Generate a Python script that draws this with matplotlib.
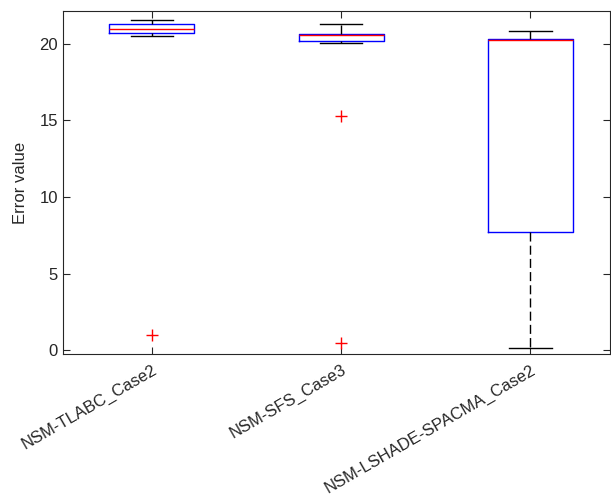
import matplotlib.pyplot as plt

# summary statistics of the error values per algorithm
labels = ["NSM-TLABC_Case2", "NSM-SFS_Case3", "NSM-LSHADE-SPACMA_Case2"]
whislo = [20.50, 20.07, 0.13]
q1 = [20.70, 20.17, 7.69]
median = [21.00, 20.55, 20.24]
q3 = [21.31, 20.63, 20.35]
whishi = [21.59, 21.31, 20.85]
fliers = [[1.00], [15.29, 0.46], []]

plt.rcParams['font.family'] = ['Liberation Sans', 'DejaVu Sans']

stats = []
for i, lab in enumerate(labels):
    stats.append(dict(label=lab, whislo=whislo[i], q1=q1[i], med=median[i],
                      q3=q3[i], whishi=whishi[i], fliers=fliers[i]))

fig = plt.figure(figsize=(6.11, 4.98), dpi=100)
ax = fig.add_axes([0.103, 0.289, 0.895, 0.689])

axis_col = '#262626'
ax.bxp(stats, positions=[1, 2, 3], widths=0.45, showfliers=True,
       boxprops=dict(color='blue', linewidth=1.0),
       medianprops=dict(color='red', linewidth=1.0),
       whiskerprops=dict(color='black', linewidth=1.0, linestyle=(0, (6.5, 3))),
       capprops=dict(color='black', linewidth=1.0),
       capwidths=0.225,
       flierprops=dict(marker='+', markeredgecolor='red', markersize=8,
                       markeredgewidth=1.0, linestyle='none'))

ax.set_xlim(0.53, 3.42)
ax.set_ylim(-0.26, 22.15)
ax.set_yticks([0, 5, 10, 15, 20])
ax.set_xticks([1, 2, 3])
ax.set_xticklabels(labels, rotation=30, ha='right', rotation_mode='anchor',
                   fontsize=12, color=axis_col)
ax.set_ylabel("Error value", fontsize=12, color=axis_col, labelpad=8)
ax.tick_params(axis='both', direction='in', top=True, right=True,
               length=5, width=0.8, color=axis_col, labelcolor=axis_col)
ax.tick_params(axis='y', labelsize=12)
ax.tick_params(axis='x', pad=6)
for sp in ax.spines.values():
    sp.set_color(axis_col)
    sp.set_linewidth(0.8)

fig.savefig("out.png", dpi=100)
